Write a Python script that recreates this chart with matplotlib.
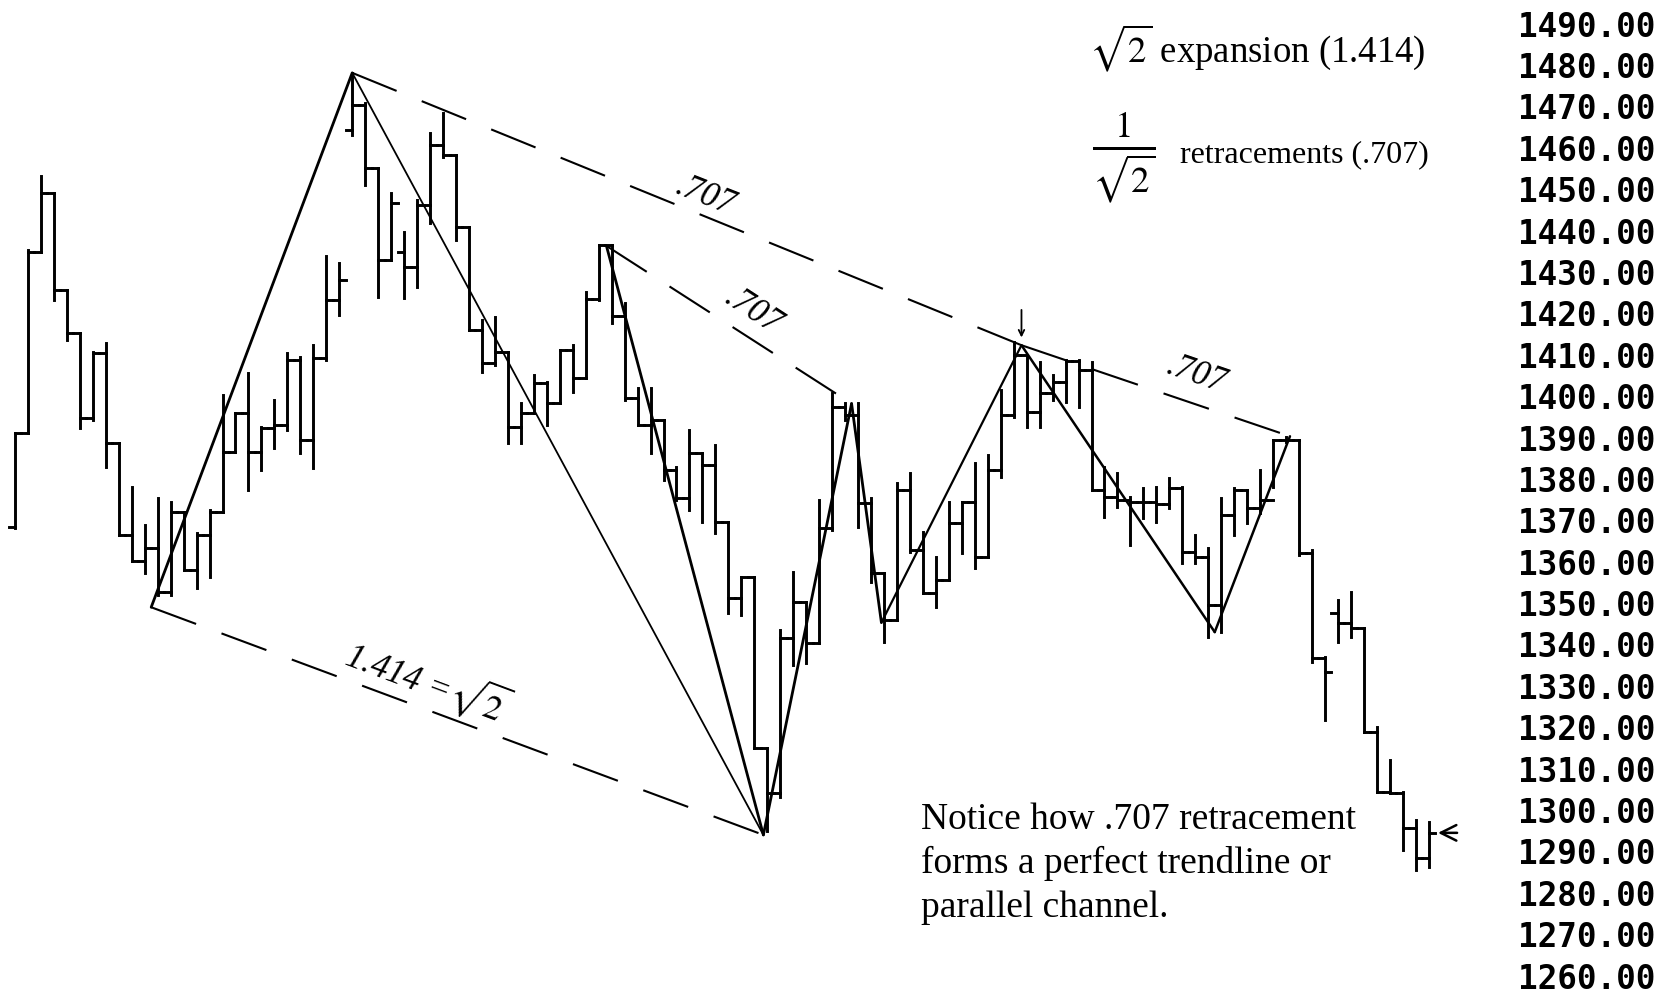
#!/usr/bin/env python3
"""Bar chart with sqrt(2) expansion / .707 retracement annotations."""

import matplotlib
matplotlib.use("Agg")
import matplotlib.pyplot as plt
import numpy as np

plt.rcParams["font.family"] = ["Liberation Serif", "DejaVu Serif"]
plt.rcParams["mathtext.fontset"] = "stix"

# OHLC per bar (one bar per session, in order)
opens = [1368.4, 1391.1, 1434.8, 1449.1, 1425.6, 1415.3, 1394.7, 1410.4, 1388.7, 1366.5,
         1360.2, 1363.3, 1352.7, 1372.0, 1358.0, 1366.5, 1372.0, 1386.5, 1395.9, 1386.5,
         1392.3, 1393.0, 1408.7, 1389.4, 1409.2, 1423.2, 1464.3, 1470.3, 1455.1, 1432.9,
         1434.8, 1431.2, 1446.2, 1460.7, 1458.3, 1440.9, 1416.0, 1408.0, 1410.7, 1392.5,
         1395.9, 1403.2, 1398.4, 1411.2, 1404.4, 1423.5, 1436.5, 1419.4, 1399.6, 1393.0,
         1394.2, 1382.2, 1375.4, 1386.3, 1383.4, 1369.6, 1351.3, 1356.3, 1315.0, 1304.2,
         1341.6, 1350.3, 1340.4, 1368.2, 1397.4, 1395.5, 1374.2, 1357.3, 1345.9, 1377.3,
         1362.9, 1352.5, 1355.6, 1369.4, 1374.4, 1361.2, 1382.2, 1395.5, 1409.9, 1396.2,
         1400.8, 1403.4, 1408.5, 1406.3, 1377.3, 1375.6, 1374.9, 1374.4, 1374.4, 1374.0,
         1377.8, 1362.4, 1361.2, 1349.6, 1371.3, 1377.3, 1373.0, 1374.9, 1389.4, 1389.4,
         1362.1, 1336.8, 1347.6, 1345.2, 1344.0, 1318.9, 1304.4, 1304.2, 1295.7, 1288.4]
highs = [1391.1, 1435.3, 1453.2, 1449.1, 1425.6, 1415.3, 1410.7, 1412.8, 1388.7, 1378.1,
         1368.9, 1375.4, 1374.4, 1372.0, 1367.0, 1372.5, 1400.3, 1395.9, 1405.6, 1392.5,
         1399.1, 1410.4, 1409.5, 1412.4, 1433.9, 1432.2, 1478.1, 1470.8, 1455.1, 1449.1,
         1439.7, 1447.4, 1463.6, 1468.4, 1458.3, 1440.9, 1418.4, 1419.1, 1410.7, 1398.4,
         1405.1, 1403.4, 1411.2, 1412.4, 1425.2, 1436.5, 1436.5, 1422.5, 1402.0, 1402.0,
         1394.2, 1382.9, 1391.8, 1386.3, 1388.2, 1369.6, 1356.3, 1356.3, 1315.0, 1343.5,
         1357.5, 1350.3, 1374.9, 1400.8, 1398.4, 1398.4, 1375.4, 1357.3, 1379.0, 1381.4,
         1367.2, 1361.2, 1374.4, 1374.4, 1383.9, 1385.8, 1401.5, 1413.1, 1409.9, 1408.3,
         1405.1, 1408.7, 1408.7, 1408.3, 1382.9, 1381.4, 1375.6, 1377.8, 1378.1, 1380.2,
         1378.1, 1366.5, 1363.3, 1375.4, 1377.8, 1377.3, 1382.2, 1389.4, 1390.1, 1389.4,
         1362.9, 1337.0, 1350.8, 1352.7, 1344.0, 1320.1, 1312.1, 1304.4, 1297.6, 1297.2]
lows = [1368.2, 1391.1, 1434.8, 1423.2, 1413.6, 1392.3, 1394.2, 1382.9, 1366.5, 1360.2,
        1357.3, 1352.0, 1352.0, 1358.0, 1353.7, 1356.3, 1372.0, 1386.5, 1377.3, 1382.2,
        1387.5, 1391.8, 1386.3, 1382.7, 1408.7, 1419.6, 1463.1, 1451.0, 1424.0, 1432.9,
        1423.7, 1426.4, 1441.8, 1457.8, 1437.7, 1416.0, 1405.8, 1407.5, 1388.7, 1388.7,
        1395.9, 1393.0, 1398.4, 1401.0, 1404.4, 1423.2, 1417.7, 1399.1, 1393.0, 1386.3,
        1379.8, 1374.9, 1372.5, 1369.6, 1367.0, 1347.6, 1347.1, 1315.0, 1295.0, 1303.2,
        1335.1, 1335.6, 1340.4, 1367.7, 1394.2, 1368.4, 1355.1, 1340.6, 1345.9, 1362.4,
        1352.5, 1349.1, 1355.6, 1362.1, 1358.5, 1361.2, 1380.5, 1395.0, 1392.5, 1392.5,
        1399.1, 1398.6, 1397.4, 1377.3, 1370.8, 1373.2, 1364.1, 1370.6, 1369.6, 1373.0,
        1359.7, 1359.7, 1341.8, 1343.0, 1366.5, 1369.4, 1371.8, 1378.1, 1388.9, 1361.6,
        1335.8, 1321.8, 1340.6, 1341.8, 1318.9, 1304.4, 1304.2, 1290.4, 1285.6, 1286.3]
closes = [1391.1, 1434.8, 1449.1, 1425.6, 1415.3, 1394.7, 1410.4, 1388.7, 1366.5, 1360.2,
          1363.3, 1352.7, 1372.0, 1358.0, 1366.5, 1372.0, 1386.5, 1395.9, 1386.5, 1392.3,
          1393.0, 1408.7, 1389.4, 1409.2, 1423.2, 1428.1, 1470.3, 1455.1, 1432.9, 1446.7,
          1431.2, 1446.2, 1460.7, 1458.3, 1440.9, 1416.0, 1408.0, 1410.7, 1392.5, 1395.9,
          1403.2, 1398.4, 1411.2, 1404.4, 1423.5, 1436.5, 1419.4, 1399.6, 1393.0, 1394.2,
          1382.2, 1375.4, 1386.3, 1383.4, 1369.6, 1351.3, 1356.3, 1315.0, 1304.2, 1341.6,
          1350.3, 1340.4, 1368.2, 1397.4, 1395.5, 1374.2, 1357.3, 1345.9, 1377.3, 1362.9,
          1352.5, 1355.6, 1369.4, 1374.4, 1361.2, 1382.2, 1395.5, 1409.9, 1396.2, 1400.8,
          1403.4, 1408.5, 1406.3, 1377.3, 1375.6, 1374.9, 1374.4, 1374.4, 1374.0, 1377.8,
          1362.4, 1361.2, 1349.6, 1371.3, 1377.3, 1373.0, 1374.9, 1389.4, 1389.4, 1362.1,
          1336.8, 1333.4, 1345.2, 1344.0, 1318.9, 1304.4, 1304.2, 1295.7, 1288.4, 1294.5]

# swing points (bar number, price) joined by the trendlines
swing_low_a = (11.5, 1349.0)
swing_high_a = (27.0, 1478.1)
swing_high_b = (46.6, 1436.3)
swing_low_b = (58.7, 1294.0)
swing_high_c = (65.5, 1398.2)
swing_low_c = (67.8, 1345.3)
swing_high_d = (78.6, 1412.3)
swing_low_d = (93.5, 1343.0)
swing_high_e = (99.3, 1390.3)

price_ticks = np.arange(1260, 1491, 10)

fig = plt.figure(figsize=(16.76, 9.98), dpi=100)
ax = fig.add_axes([0, 0, 1505 / 1676, 1])

n = len(closes)
x = np.arange(1, n + 1)
bar_kw = dict(color="black", linewidth=2.1, capstyle="projecting")
ax.vlines(x, lows, highs, **bar_kw)
ax.hlines(opens, x - 0.5, x, **bar_kw)
ax.hlines(closes, x, x + 0.5, **bar_kw)


def seg(p, q, **kw):
    ax.plot([p[0], q[0]], [p[1], q[1]], color="black", solid_capstyle="round", **kw)


# solid zigzag trendlines
seg(swing_low_a, swing_high_a, lw=2.0)
seg(swing_high_a, swing_low_b, lw=1.3)
seg(swing_high_b, swing_low_b, lw=2.0)
seg(swing_low_b, swing_high_c, lw=2.0)
seg(swing_high_c, swing_low_c, lw=2.0)
seg(swing_low_c, swing_high_d, lw=1.6)
seg(swing_high_d, swing_low_d, lw=1.8)
seg(swing_low_d, swing_high_e, lw=1.8)

# dashed channel lines
dash = (0, (23, 13))
seg(swing_low_a, swing_low_b, lw=1.5, linestyle=dash)
seg(swing_high_a, swing_high_d, lw=1.5, linestyle=dash)
seg(swing_high_b, swing_high_c, lw=1.5, linestyle=dash)
seg(swing_high_d, swing_high_e, lw=1.5, linestyle=dash)

# labels along the dashed lines
lab = dict(fontsize=25, style="italic", ha="center", va="center", rotation_mode="anchor")
ax.text(54.2, 1448.3, ".707", rotation=-21.5, **lab)
ax.text(57.9, 1420.5, ".707", rotation=-33, **lab)
ax.text(92.1, 1405.2, ".707", rotation=-19, **lab)
ax.text(32.8, 1331.3, r"1.414 =$\sqrt{2}$", rotation=-20.5, **lab)

# arrows marking the peak and the last bar
ax.annotate("", xy=(78.6, 1413.5), xytext=(78.6, 1421.5),
            arrowprops=dict(arrowstyle="->", lw=1.3, color="black"))
ax.annotate("", xy=(110.5, 1294.5), xytext=(112.4, 1294.5),
            arrowprops=dict(arrowstyle="->", lw=1.8, color="black", mutation_scale=28))

fig.text(0.650, 0.952, r"$\sqrt{2}$ expansion (1.414)", fontsize=26.5, va="center", ha="left")
fig.text(0.6705, 0.842, r"$\frac{1}{\sqrt{2}}$", fontsize=38, va="center", ha="center")
fig.text(0.704, 0.845, "retracements (.707)", fontsize=23, va="center", ha="left")
fig.text(0.5497, 0.1955,
         "Notice how .707 retracement\nforms a perfect trendline or\nparallel channel.",
         fontsize=27, va="top", ha="left", linespacing=1.33)

ax.set_xlim(-0.157, 115.88)
ax.set_ylim(1254.6, 1495.7)
ax.set_yticks(price_ticks)
ax.set_yticklabels([f"{p:.2f}" for p in price_ticks],
                   fontfamily="DejaVu Sans Mono", fontweight="bold", fontsize=23.5)
ax.yaxis.tick_right()
ax.tick_params(axis="y", length=0, pad=9)
ax.set_xticks([])
for s in ax.spines.values():
    s.set_visible(False)

fig.savefig("out.png", dpi=100, facecolor="white")
